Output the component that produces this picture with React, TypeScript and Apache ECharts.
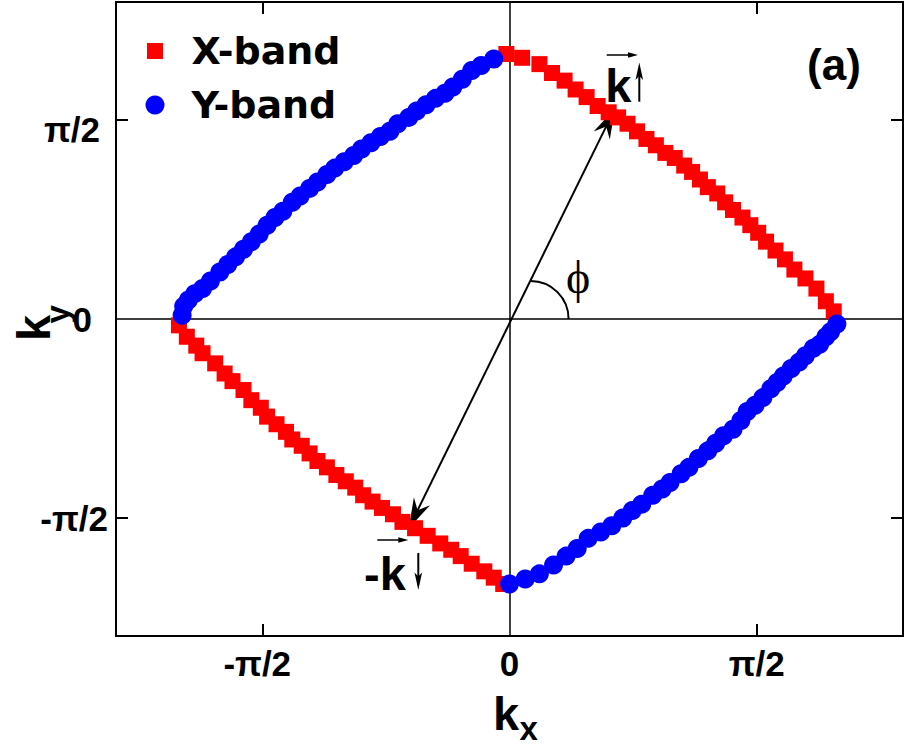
import React, { useEffect, useRef } from "react";
import * as echarts from "echarts";

// ---------- axis ----------
const HALF_PI = Math.PI / 2;
const axisMin = -2.5;
const axisMax = 2.5;
const tickValues = [-HALF_PI, 0, HALF_PI];
const tickLabels = ["-π/2", "0", "π/2"];
const innerTickValues = [-HALF_PI, HALF_PI];

// ---------- series names ----------
const seriesNames = ["X-band", "Y-band"];

// ---------- X-band (red squares) ----------
const xBandQ1Kx = [-0.02, 0.08, 0.19, 0.27, 0.35, 0.42, 0.49, 0.56, 0.63, 0.69, 0.75, 0.81, 0.87, 0.93, 0.99, 1.05, 1.11, 1.16, 1.21, 1.26, 1.32, 1.37, 1.42, 1.48, 1.53, 1.58, 1.63, 1.69, 1.75, 1.81, 1.88, 1.95, 2.01, 2.06];
const xBandQ1Ky = [2.09, 2.06, 2.01, 1.94, 1.88, 1.81, 1.75, 1.68, 1.63, 1.59, 1.54, 1.48, 1.42, 1.37, 1.31, 1.27, 1.21, 1.16, 1.10, 1.04, 0.99, 0.92, 0.86, 0.80, 0.74, 0.68, 0.61, 0.54, 0.47, 0.39, 0.32, 0.24, 0.14, 0.06];
const xBandQ3Kx = [-2.10, -2.05, -1.99, -1.95, -1.87, -1.81, -1.76, -1.69, -1.64, -1.58, -1.54, -1.48, -1.42, -1.38, -1.32, -1.27, -1.22, -1.16, -1.10, -1.04, -0.98, -0.93, -0.87, -0.81, -0.74, -0.68, -0.60, -0.52, -0.44, -0.37, -0.31, -0.24, -0.16, -0.10, -0.04];
const xBandQ3Ky = [-0.05, -0.14, -0.21, -0.27, -0.35, -0.43, -0.49, -0.56, -0.64, -0.70, -0.77, -0.83, -0.89, -0.95, -1.00, -1.06, -1.12, -1.17, -1.23, -1.28, -1.33, -1.39, -1.44, -1.49, -1.54, -1.60, -1.65, -1.71, -1.77, -1.82, -1.87, -1.93, -1.99, -2.04, -2.09];

// ---------- Y-band (blue circles) ----------
const yBandQ2Kx = [-2.08, -2.07, -2.04, -2.00, -1.95, -1.90, -1.84, -1.79, -1.74, -1.69, -1.64, -1.59, -1.54, -1.49, -1.44, -1.38, -1.33, -1.27, -1.22, -1.16, -1.11, -1.05, -0.99, -0.94, -0.88, -0.82, -0.76, -0.71, -0.64, -0.59, -0.53, -0.47, -0.41, -0.36, -0.30, -0.24, -0.18, -0.10];
const yBandQ2Ky = [0.03, 0.10, 0.15, 0.20, 0.24, 0.30, 0.37, 0.43, 0.49, 0.55, 0.61, 0.67, 0.74, 0.80, 0.85, 0.92, 0.97, 1.03, 1.08, 1.14, 1.19, 1.24, 1.29, 1.34, 1.39, 1.44, 1.48, 1.54, 1.59, 1.64, 1.69, 1.74, 1.78, 1.83, 1.89, 1.96, 2.00, 2.05];
const yBandQ4Kx = [0.00, 0.10, 0.19, 0.28, 0.36, 0.43, 0.50, 0.58, 0.65, 0.72, 0.78, 0.84, 0.91, 0.97, 1.02, 1.09, 1.14, 1.20, 1.26, 1.31, 1.36, 1.42, 1.47, 1.51, 1.56, 1.61, 1.66, 1.70, 1.74, 1.79, 1.84, 1.88, 1.93, 1.97, 2.01, 2.04, 2.08];
const yBandQ4Ky = [-2.09, -2.05, -2.01, -1.94, -1.87, -1.81, -1.73, -1.68, -1.63, -1.57, -1.51, -1.46, -1.39, -1.34, -1.29, -1.22, -1.17, -1.10, -1.04, -0.98, -0.92, -0.87, -0.80, -0.73, -0.68, -0.62, -0.55, -0.50, -0.45, -0.39, -0.34, -0.29, -0.23, -0.20, -0.14, -0.10, -0.04];

// ---------- annotation anchors (data coordinates) ----------
const kTip = [0.67, 1.66];
const minusKTip = [-0.64, -1.65];
const phiArcCenter = [0.134, 0];

const SANS = "'Liberation Sans', Arial, sans-serif";
const SERIF = "'Liberation Serif', 'Times New Roman', serif";

function pairs(xs: number[], ys: number[]) {
  return xs.map((x, i) => [x, ys[i]]);
}

function labelIndex(v: number) {
  for (let i = 0; i < tickValues.length; i++) {
    if (Math.abs(tickValues[i] - v) < 1e-6) return i;
  }
  return -1;
}

const labelFont = { fontFamily: SANS, fontWeight: "bold", fontSize: 35, color: "#000" };

function arrowHead(tip: number[], from: number[], L: number, W: number, notch: number) {
  const dx = tip[0] - from[0];
  const dy = tip[1] - from[1];
  const len = Math.hypot(dx, dy);
  const ux = dx / len;
  const uy = dy / len;
  const nx = -uy;
  const ny = ux;
  return [
    [tip[0], tip[1]],
    [tip[0] - L * ux + W * nx, tip[1] - L * uy + W * ny],
    [tip[0] - (L - notch) * ux, tip[1] - (L - notch) * uy],
    [tip[0] - L * ux - W * nx, tip[1] - L * uy - W * ny],
  ];
}

function buildOption() {
  const xAxisBase = { type: "value", min: axisMin, max: axisMax, splitLine: { show: false } };
  const tickStyle = { show: true, inside: true, length: 12, lineStyle: { color: "#000", width: 2 }, customValues: innerTickValues };
  return {
    animation: false,
    backgroundColor: "#ffffff",
    grid: { left: 116, right: 2, top: 2, bottom: 114, show: true, borderColor: "#000", borderWidth: 2, backgroundColor: "transparent" },
    legend: {
      orient: "vertical",
      left: 144,
      top: 32,
      padding: 0,
      itemWidth: 19,
      itemHeight: 19,
      itemGap: 16,
      selectedMode: false,
      data: [
        { name: seriesNames[0], icon: "rect", itemStyle: { borderColor: "#fff", borderWidth: 3 } },
        { name: seriesNames[1], icon: "circle" },
      ],
      textStyle: { fontFamily: "'DejaVu Sans', sans-serif", fontWeight: "bold", fontSize: 38, color: "#000", padding: [0, 0, 0, 22] },
    },
    xAxis: [
      {
        ...xAxisBase,
        position: "bottom",
        axisLine: { show: false, onZero: false },
        axisTick: tickStyle,
        axisLabel: {
          show: true,
          customValues: tickValues,
          margin: 10,
          ...labelFont,
          formatter: (v: number) => {
            const i = labelIndex(v);
            if (i === 0) return "{m|" + tickLabels[0] + "}";
            return "{n|" + tickLabels[i] + "}";
          },
          rich: {
            m: { ...labelFont, padding: [0, 10, 0, 0] },
            n: { ...labelFont },
          },
        },
      },
      { ...xAxisBase, position: "top", axisLine: { show: false, onZero: false }, axisTick: tickStyle, axisLabel: { show: false } },
      { ...xAxisBase, position: "bottom", axisLine: { show: true, onZero: true, lineStyle: { color: "#000", width: 1.5 } }, axisTick: { show: false }, axisLabel: { show: false } },
    ],
    yAxis: [
      {
        ...xAxisBase,
        position: "left",
        axisLine: { show: false, onZero: false },
        axisTick: tickStyle,
        axisLabel: {
          show: true,
          customValues: tickValues,
          margin: 8,
          ...labelFont,
          formatter: (v: number) => {
            const i = labelIndex(v);
            if (i === 0) return "{m|" + tickLabels[0] + "}";
            if (i === 1) return "{z|" + tickLabels[1] + "}";
            return "{p|" + tickLabels[2] + "}";
          },
          rich: {
            m: { ...labelFont },
            z: { ...labelFont, padding: [0, 16, 0, 0] },
            p: { ...labelFont, padding: [20, 8, 0, 0] },
          },
        },
      },
      { ...xAxisBase, position: "right", axisLine: { show: false, onZero: false }, axisTick: tickStyle, axisLabel: { show: false } },
      { ...xAxisBase, position: "left", axisLine: { show: true, onZero: true, lineStyle: { color: "#000", width: 1.5 } }, axisTick: { show: false }, axisLabel: { show: false } },
    ],
    series: [
      {
        name: seriesNames[0],
        type: "scatter",
        xAxisIndex: 0,
        yAxisIndex: 0,
        symbol: "rect",
        symbolSize: 16,
        itemStyle: { color: "#ff0000", opacity: 1 },
        silent: true,
        z: 2,
        data: pairs(xBandQ1Kx, xBandQ1Ky).concat(pairs(xBandQ3Kx, xBandQ3Ky)),
      },
      {
        name: seriesNames[1],
        type: "scatter",
        xAxisIndex: 0,
        yAxisIndex: 0,
        symbol: "circle",
        symbolSize: 19,
        itemStyle: { color: "#0000ff", opacity: 1 },
        silent: true,
        z: 3,
        data: pairs(yBandQ2Kx, yBandQ2Ky).concat(pairs(yBandQ4Kx, yBandQ4Ky)),
      },
    ],
  };
}

function buildGraphic(chart: any) {
  const toPx = (p: number[]) => chart.convertToPixel({ xAxisIndex: 0, yAxisIndex: 0 }, p) as number[];
  const top = toPx(kTip);
  const bot = toPx(minusKTip);
  const dx = top[0] - bot[0];
  const dy = top[1] - bot[1];
  const len = Math.hypot(dx, dy);
  const ux = dx / len;
  const uy = dy / len;
  const arcC = toPx(phiArcCenter);
  const black = "#000";
  const txt = (x: number, y: number, text: string, fontSize: number, opts: any = {}, rotation = 0) => ({
    type: "text",
    x,
    y,
    rotation,
    silent: true,
    style: {
      text,
      fontFamily: SANS,
      fontWeight: "bold",
      fontSize,
      fill: black,
      align: "left",
      verticalAlign: "middle",
      ...opts,
    },
  });
  const line = (x1: number, y1: number, x2: number, y2: number, w: number) => ({
    type: "line",
    silent: true,
    shape: { x1, y1, x2, y2 },
    style: { stroke: black, lineWidth: w },
  });
  const poly = (pts: number[][]) => ({ type: "polygon", silent: true, shape: { points: pts }, style: { fill: black } });

  return [
    // main double arrow k / -k
    line(bot[0] + ux * 14, bot[1] + uy * 14, top[0] - ux * 14, top[1] - uy * 14, 2),
    poly(arrowHead(top, bot, 30, 9, 10)),
    poly(arrowHead(bot, top, 30, 9, 10)),
    // phi arc
    {
      type: "arc",
      silent: true,
      shape: { cx: arcC[0], cy: arcC[1], r: 38, startAngle: -Math.PI / 2, endAngle: 0, clockwise: true },
      style: { stroke: black, lineWidth: 2, fill: null },
    },
    txt(578, 277, "ϕ", 46, { fontFamily: SERIF, fontWeight: "normal", align: "center" }),
    // "(a)"
    txt(834, 64.8, "(a)", 44, { align: "center" }),
    // k with vector arrow and spin-up arrow
    txt(605.3, 85.4, "k", 47),
    line(606.7, 55, 630, 55, 1.5),
    poly([[638, 55], [628, 52.3], [628, 57.7]]),
    line(639.3, 101.7, 639.3, 76, 2),
    poly([[639.3, 62.5], [635.5, 80], [639.3, 76], [643.1, 80]]),
    // -k with vector arrow and spin-down arrow
    txt(364, 573.7, "-k", 47),
    line(377.3, 540, 400, 540, 1.5),
    poly([[408.3, 540], [398.3, 537.3], [398.3, 542.7]]),
    line(418.3, 553, 418.3, 577, 2),
    poly([[418.3, 590], [414.5, 572.5], [418.3, 576.5], [422.1, 572.5]]),
    // axis titles
    txt(493, 713.7, "k", 47),
    txt(519.5, 728.6, "x", 33),
    txt(33.7, 341, "k", 47, {}, Math.PI / 2),
    txt(57, 323.5, "y", 33, {}, Math.PI / 2),
  ];
}

export default function App() {
  const ref = useRef<HTMLDivElement>(null);
  useEffect(() => {
    const chart = echarts.init(ref.current as HTMLDivElement, undefined, { renderer: "svg" });
    chart.setOption(buildOption() as any);
    chart.setOption({ graphic: buildGraphic(chart) } as any);
    return () => chart.dispose();
  }, []);
  return <div ref={ref} style={{ position: "absolute", left: 0, top: 0, width: 905, height: 750, background: "#fff" }} />;
}
